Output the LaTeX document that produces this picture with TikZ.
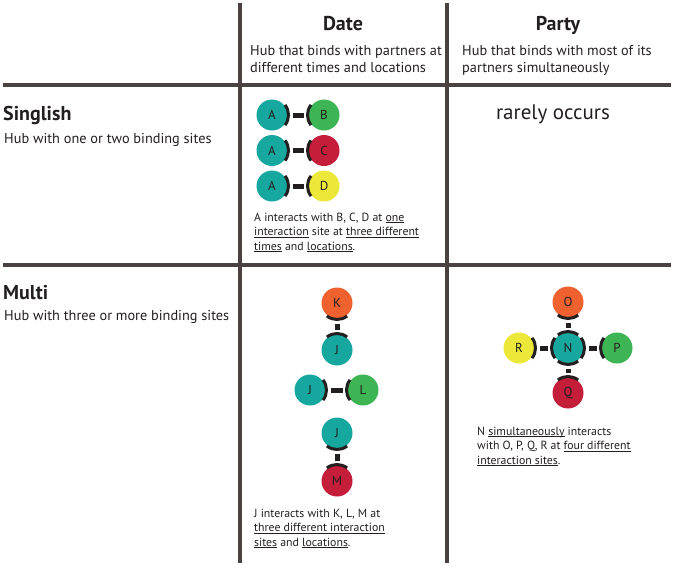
\documentclass[tikz,border=0pt]{standalone}
\usepackage{fontspec}
\setmainfont{PT Sans}
\usepackage{xcolor}
\usepackage{tikz}
\usetikzlibrary{positioning}
\newcommand{\uln}[1]{\leavevmode\setbox0=\hbox{#1}\rlap{\rule[-2pt]{\wd0}{0.7pt}}\box0\relax}
\definecolor{gridbrown}{RGB}{74,66,64}
\definecolor{inkblack}{RGB}{35,31,32}
\definecolor{hubteal}{RGB}{22,168,158}
\definecolor{hubgreen}{RGB}{62,181,84}
\definecolor{hubred}{RGB}{196,30,58}
\definecolor{hubyellow}{RGB}{236,232,58}
\definecolor{huborange}{RGB}{240,97,48}
\tikzset{
hub/.style={
circle,
minimum size=31pt,
inner sep=0pt,
outer sep=0pt,
font=\fontsize{13}{15}\selectfont,
text=inkblack
},
bond/.style={
line width=5pt,
shorten <=5pt,
shorten >=5pt,
inkblack
},
bindsite/.style={
line width=3pt,
inkblack
},
gridline/.style={
line width=4pt,
gridbrown
},
heading/.style={
font=\fontsize{20}{24}\selectfont\bfseries,
text=inkblack,
inner sep=0pt
},
subhead/.style={
font=\fontsize{14.3}{17}\selectfont,
text=inkblack,
align=left,
inner sep=0pt
},
caption/.style={
font=\fontsize{11.8}{14.5}\selectfont,
text=inkblack,
align=left,
inner sep=0pt
}
}
\begin{document}
\begin{tikzpicture}[x=1pt,y=1pt]
\useasboundingbox (0,0) rectangle (674,-566);

% table lines
\draw[gridline](240,-3)--(240,-563);
\draw[gridline](447,-3)--(447,-563);
\draw[gridline](3,-85)--(671,-85);
\draw[gridline](3,-265)--(671,-265);

% headings
\node[heading,anchor=base](date) at (343,-30){Date};
\node[heading,anchor=base](party) at (558,-30){Party};
\node[subhead,anchor=north west](datetxt) at (250,-44.7){Hub that binds with partners at\\different times and locations};
\node[subhead,anchor=north west](partytxt) at (462,-44.7){Hub that binds with most of its\\partners simultaneously};
\node[heading,anchor=base west](singlish) at (3,-120){Singlish};
\node[subhead,anchor=base west](singlishtxt) at (4,-143){Hub with one or two binding sites};
\node[heading,anchor=base west](multi) at (3,-299){Multi};
\node[subhead,anchor=base west](multitxt) at (4,-320){Hub with three or more binding sites};
\node[font=\fontsize{21}{25}\selectfont,text=inkblack,inner sep=0pt,anchor=base](rare) at (553,-119){rarely occurs};

% singlish date
\node[hub,fill=hubteal](a1) at (272,-115){A};
\node[hub,fill=hubgreen,right=21pt of a1](b){B};
\node[hub,fill=hubteal](a2) at (272,-150.5){A};
\node[hub,fill=hubred,right=21pt of a2](c){C};
\node[hub,fill=hubteal](a3) at (272,-186){A};
\node[hub,fill=hubyellow,right=21pt of a3](d){D};
\node[caption,anchor=north west](capa) at (254,-212.5){A interacts with B, C, D at \uln{one}\\\uln{interaction} site at \uln{three different}\\\uln{times} and \uln{locations}.};

% multi date
\node[hub,fill=huborange](k) at (337,-303){K};
\node[hub,fill=hubteal,below=16pt of k](j1){J};
\node[hub,fill=hubteal](j2) at (310,-390){J};
\node[hub,fill=hubgreen,right=22pt of j2](l){L};
\node[hub,fill=hubteal](j3) at (337,-433){J};
\node[hub,fill=hubred,below=17pt of j3](m){M};
\node[caption,anchor=north west](capj) at (254,-508.5){J interacts with K, L, M at\\\uln{three different interaction}\\\uln{sites} and \uln{locations}.};

% multi party
\node[hub,fill=hubteal](n) at (568,-348){N};
\node[hub,fill=huborange,above=15pt of n](o){O};
\node[hub,fill=hubred,below=14pt of n](q){Q};
\node[hub,fill=hubgreen,right=18pt of n](p){P};
\node[hub,fill=hubyellow,left=18pt of n](r){R};
\node[caption,anchor=north west](capn) at (477,-426.5){N \uln{simultaneously} interacts\\with O, P, Q, R at \uln{four different}\\\uln{interaction sites}.};

\foreach \x/\y in {a1/b,a2/c,a3/d,k/j1,j2/l,j3/m,n/o,n/p,n/q,n/r}
\draw[bond](\x)--(\y);

\foreach \n/\a in {a1/0,a2/0,a3/0,b/180,c/180,d/180,k/-90,j1/90,j2/0,l/180,j3/-90,m/90,n/0,n/90,n/180,n/-90,o/-90,p/180,q/90,r/0}
\draw[bindsite]([shift={(\a-38:16.5pt)}]\n.center) arc[start angle=\a-38,delta angle=76,radius=16.5pt];
\end{tikzpicture}
\end{document}
